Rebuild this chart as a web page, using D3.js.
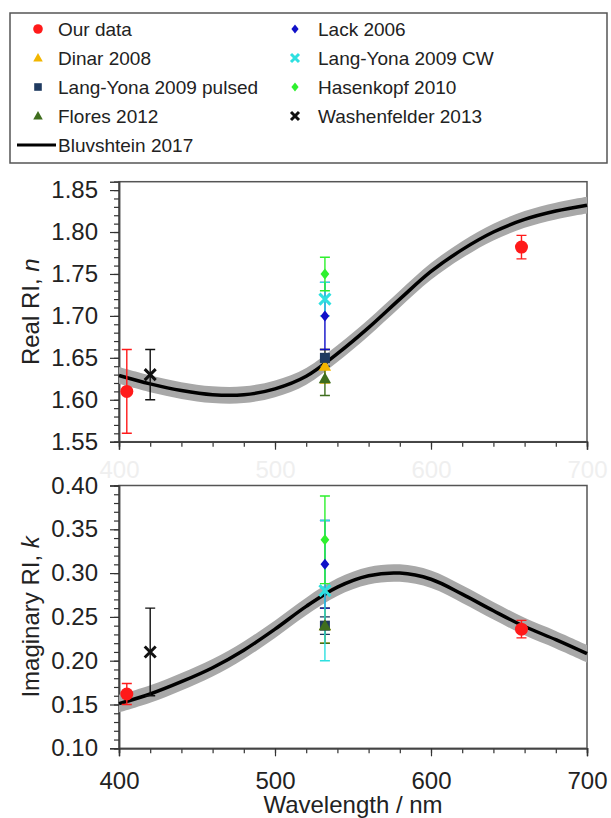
<!DOCTYPE html>
<meta charset="utf-8">
<style>
body { margin: 0; background: #fff; }
svg { display: block; font-family: "Liberation Sans", Arial, sans-serif; }
</style>
<svg width="611" height="818"></svg>
<script src="https://d3js.org/d3.v7.min.js"></script>
<script>
// Bluvshtein 2017 fit, every 20 nm
var fitWl = [400, 420, 440, 460, 480, 500, 520, 540, 560, 580, 600, 620, 640, 660, 680, 700]
var fitN = [1.629, 1.619, 1.611, 1.606, 1.606, 1.613, 1.628, 1.655, 1.686, 1.720, 1.753, 1.779, 1.800, 1.815, 1.825, 1.832]
var fitK = [0.151, 0.162, 0.176, 0.192, 0.212, 0.236, 0.262, 0.284, 0.297, 0.300, 0.293, 0.276, 0.257, 0.239, 0.224, 0.208]
var fitBand = 0.01

// measured points
var seriesNames = ["Our data", "Dinar 2008", "Lang-Yona 2009 pulsed", "Flores 2012",
  "Lack 2006", "Lang-Yona 2009 CW", "Hasenkopf 2010", "Washenfelder 2013"]
var seriesWl = [[405, 658], [532], [532], [532], [532], [532], [532], [420]]
var seriesN = [[1.61, 1.782], [1.64], [1.65], [1.625], [1.70], [1.72], [1.75], [1.63]]
var seriesNErr = [[0.05, 0.014], [0.02], [0.01], [0.02], [0.04], [0.02], [0.02], [0.03]]
var seriesK = [[0.162, 0.236], [0.24], [0.24], [0.24], [0.31], [0.28], [0.338], [0.21]]
var seriesKErr = [[0.012, 0.01], [0.02], [0.01], [0.02], [0.05], [0.08], [0.05], [0.05]]

var nTicks = [1.55, 1.60, 1.65, 1.70, 1.75, 1.80, 1.85]
var kTicks = [0.10, 0.15, 0.20, 0.25, 0.30, 0.35, 0.40]
var wlTicks = [400, 500, 600, 700]

var colors = ["#ff1a1a", "#f2b600", "#1f3a60", "#3f6e1e", "#1010c8", "#2ee0e0", "#2ef02e", "#111111"]
var shapes = ["circle", "triangle", "square", "triangle", "diamond", "x", "diamond", "x"]

var svg = d3.select('svg')

var x = d3.scaleLinear().domain([400, 700]).range([119, 587])
var yN = d3.scaleLinear().domain([1.55, 1.86]).range([441.7, 181.7])
var yK = d3.scaleLinear().domain([0.10, 0.40]).range([748.3, 485.5])

function markerPath(shape, r) {
  switch (shape) {
    case "circle":
      return d3.symbol(d3.symbolCircle, Math.PI * r * r)()
    case "triangle":
      return `M0,${-r}L${r * 0.95},${r * 0.7}L${-r * 0.95},${r * 0.7}Z`
    case "square":
      return `M${-r},${-r}h${2 * r}v${2 * r}h${-2 * r}Z`
    case "diamond":
      return `M0,${-r}L${r * 0.8},0L0,${r}L${-r * 0.8},0Z`
    default:
      return `M${-r},${-r}L${r},${r}M${-r},${r}L${r},${-r}`
  }
}

var markerSize = { circle: 6.5, triangle: 6.5, square: 5, diamond: 5.5, x: 5.5 }

function drawMarker(g, shape, color, cx, cy, r) {
  var p = g.append('path')
    .attr('d', markerPath(shape, r))
    .attr('transform', `translate(${cx},${cy})`)
  if (shape === "x") {
    p.attr('fill', 'none').attr('stroke', color).attr('stroke-width', 3)
  } else {
    p.attr('fill', color)
  }
}

function drawPanel(y, ticks, fitVals, vals, errs, title, showXLabels) {
  var g = svg.append('g')
  var r = x.range(), yr = y.range()

  // white plot box
  g.append('rect')
    .attr('x', r[0]).attr('y', yr[1])
    .attr('width', r[1] - r[0]).attr('height', yr[0] - yr[1])
    .attr('fill', '#fff').attr('stroke', '#555').attr('stroke-width', 1.5)

  // minor + major y ticks
  var minor = d3.range(y.domain()[0], y.domain()[1] + 1e-9, 0.01)
  g.append('g')
    .attr('transform', `translate(${r[0]},0)`)
    .call(d3.axisLeft(y).tickValues(minor).tickSize(5).tickFormat(''))
  g.append('g')
    .attr('class', 'yaxis')
    .attr('transform', `translate(${r[0]},0)`)
    .call(d3.axisLeft(y).tickValues(ticks).tickSize(9).tickPadding(12).tickFormat(d3.format('.2f')))

  // x ticks every 20 nm, labelled every 100
  g.append('g')
    .attr('transform', `translate(0,${yr[0]})`)
    .call(d3.axisBottom(x).tickValues(d3.range(400, 701, 20)).tickSize(5).tickFormat(''))
  g.append('g')
    .attr('class', showXLabels ? 'xaxis' : 'xaxis faint')
    .attr('transform', `translate(0,${yr[0]})`)
    .call(d3.axisBottom(x).tickValues(wlTicks).tickSize(8).tickPadding(showXLabels ? 16 : 11))

  g.selectAll('.domain').attr('stroke', '#444').attr('stroke-width', 1.5)
  g.selectAll('.tick line').attr('stroke', '#333').attr('stroke-width', 1.2)
  g.selectAll('.tick text').attr('font-size', 24).attr('fill', '#222')
    .attr('font-family', '"Liberation Sans", Arial, sans-serif')
  g.selectAll('.faint .tick text').attr('fill', '#efefef')

  // fit band and line
  var fit = fitWl.map(function (w, i) { return { w: w, v: fitVals[i] } })
  g.append('path')
    .datum(fit)
    .attr('fill', '#a8a8a8')
    .attr('d', d3.area().curve(d3.curveCatmullRom)
      .x(function (d) { return x(d.w) })
      .y0(function (d) { return y(d.v - fitBand) })
      .y1(function (d) { return y(d.v + fitBand) }))
  g.append('path')
    .datum(fit)
    .attr('fill', 'none').attr('stroke', '#000').attr('stroke-width', 3.5)
    .attr('d', d3.line().curve(d3.curveCatmullRom)
      .x(function (d) { return x(d.w) })
      .y(function (d) { return y(d.v) }))

  // error bars, then markers
  seriesNames.forEach(function (name, s) {
    seriesWl[s].forEach(function (w, i) {
      var cx = x(w), lo = y(vals[s][i] - errs[s][i]), hi = y(vals[s][i] + errs[s][i])
      var c = s === 7 ? '#111' : colors[s]
      g.append('path')
        .attr('d', `M${cx},${lo}V${hi}M${cx - 5},${lo}h10M${cx - 5},${hi}h10`)
        .attr('fill', 'none').attr('stroke', c).attr('stroke-width', 1.4)
    })
  })
  seriesNames.forEach(function (name, s) {
    seriesWl[s].forEach(function (w, i) {
      drawMarker(g, shapes[s], colors[s], x(w), y(vals[s][i]), markerSize[shapes[s]])
    })
  })

  // y title
  var cy = (yr[0] + yr[1]) / 2
  g.append('text')
    .attr('transform', `translate(30,${cy}) rotate(-90)`)
    .attr('text-anchor', 'middle')
    .attr('dominant-baseline', 'central')
    .attr('font-size', 24).attr('fill', '#222')
    .html(title)
}

drawPanel(yN, nTicks, fitN, seriesN, seriesNErr, 'Real RI, <tspan font-style="italic">n</tspan>', false)
drawPanel(yK, kTicks, fitK, seriesK, seriesKErr, 'Imaginary RI, <tspan font-style="italic">k</tspan>', true)

svg.append('text')
  .attr('x', (x.range()[0] + x.range()[1]) / 2)
  .attr('y', 813)
  .attr('text-anchor', 'middle')
  .attr('font-size', 24).attr('fill', '#222')
  .text('Wavelength / nm')

// legend
var legend = svg.append('g')
legend.append('rect')
  .attr('x', 10).attr('y', 13).attr('width', 597).attr('height', 150)
  .attr('fill', '#fff').attr('stroke', '#555').attr('stroke-width', 1.5)

var rowY = [29, 58, 87, 116]
seriesNames.forEach(function (name, s) {
  var col = Math.floor(s / 4), row = s % 4
  var mx = col === 0 ? 38 : 295
  var tx = col === 0 ? 58 : 318
  var m = { circle: 4.8, triangle: 5, square: 3.8, diamond: 4.5, x: 4 }[shapes[s]]
  drawMarker(legend, shapes[s], colors[s], mx, rowY[row], m)
  legend.append('text')
    .attr('x', tx).attr('y', rowY[row])
    .attr('dominant-baseline', 'central')
    .attr('font-size', 19).attr('fill', '#222')
    .text(name)
})
legend.append('line')
  .attr('x1', 17).attr('x2', 56).attr('y1', 145).attr('y2', 145)
  .attr('stroke', '#000').attr('stroke-width', 3)
legend.append('text')
  .attr('x', 58).attr('y', 145)
  .attr('dominant-baseline', 'central')
  .attr('font-size', 19).attr('fill', '#222')
  .text('Bluvshtein 2017')
</script>
